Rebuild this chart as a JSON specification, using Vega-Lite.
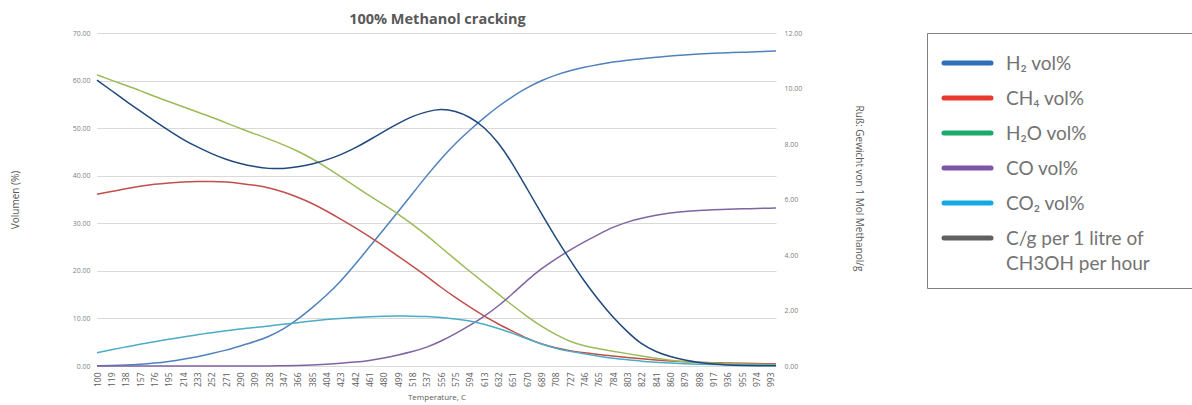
{
  "$schema": "https://vega.github.io/schema/vega-lite/v6.json",
  "padding": {"left": 10, "top": 12, "right": 0, "bottom": 0},
  "config": {"view": {"stroke": null}, "font": "Open Sans"},
  "title": {"text": "100% Methanol cracking", "anchor": "start", "dx": 339, "fontSize": 14.5, "fontWeight": "bold", "color": "#595959", "font": "Open Sans", "offset": 1.5},
  "spacing": 62,
  "resolve": {"scale": {"color": "independent", "x": "independent", "y": "independent"}},
  "hconcat": [
    {
      "width": 679,
      "height": 333,
      "data": {"values": [
        {"T": 100, "H2": 0.05, "CH4": 36.1, "H2O": 61.2, "CO": 0, "CO2": 2.8, "Cg": 10.30},
        {"T": 119, "H2": 0.1, "CH4": 36.7, "H2O": 60.1, "CO": 0, "CO2": 3.4, "Cg": 9.93},
        {"T": 138, "H2": 0.2, "CH4": 37.3, "H2O": 59.0, "CO": 0, "CO2": 4.0, "Cg": 9.55},
        {"T": 157, "H2": 0.35, "CH4": 37.8, "H2O": 57.9, "CO": 0, "CO2": 4.6, "Cg": 9.19},
        {"T": 176, "H2": 0.6, "CH4": 38.2, "H2O": 56.7, "CO": 0, "CO2": 5.1, "Cg": 8.83},
        {"T": 195, "H2": 0.95, "CH4": 38.5, "H2O": 55.6, "CO": 0, "CO2": 5.6, "Cg": 8.49},
        {"T": 214, "H2": 1.4, "CH4": 38.7, "H2O": 54.5, "CO": 0, "CO2": 6.1, "Cg": 8.16},
        {"T": 233, "H2": 1.95, "CH4": 38.8, "H2O": 53.4, "CO": 0, "CO2": 6.6, "Cg": 7.89},
        {"T": 252, "H2": 2.6, "CH4": 38.8, "H2O": 52.3, "CO": 0, "CO2": 7.0, "Cg": 7.65},
        {"T": 271, "H2": 3.3, "CH4": 38.7, "H2O": 51.1, "CO": 0, "CO2": 7.4, "Cg": 7.44},
        {"T": 290, "H2": 4.2, "CH4": 38.4, "H2O": 49.9, "CO": 0, "CO2": 7.8, "Cg": 7.29},
        {"T": 309, "H2": 5.1, "CH4": 38.0, "H2O": 48.8, "CO": 0, "CO2": 8.1, "Cg": 7.18},
        {"T": 328, "H2": 6.2, "CH4": 37.5, "H2O": 47.7, "CO": 0.02, "CO2": 8.4, "Cg": 7.11},
        {"T": 347, "H2": 7.7, "CH4": 36.6, "H2O": 46.5, "CO": 0.05, "CO2": 8.8, "Cg": 7.11},
        {"T": 366, "H2": 9.8, "CH4": 35.5, "H2O": 45.2, "CO": 0.1, "CO2": 9.1, "Cg": 7.17},
        {"T": 385, "H2": 12.2, "CH4": 34.2, "H2O": 43.6, "CO": 0.2, "CO2": 9.5, "Cg": 7.27},
        {"T": 404, "H2": 14.8, "CH4": 32.6, "H2O": 41.8, "CO": 0.35, "CO2": 9.8, "Cg": 7.42},
        {"T": 423, "H2": 17.8, "CH4": 30.9, "H2O": 39.8, "CO": 0.55, "CO2": 10.0, "Cg": 7.61},
        {"T": 442, "H2": 21.3, "CH4": 29.1, "H2O": 37.8, "CO": 0.8, "CO2": 10.2, "Cg": 7.85},
        {"T": 461, "H2": 25.0, "CH4": 27.2, "H2O": 35.8, "CO": 1.15, "CO2": 10.35, "Cg": 8.14},
        {"T": 480, "H2": 28.7, "CH4": 25.2, "H2O": 33.9, "CO": 1.65, "CO2": 10.45, "Cg": 8.45},
        {"T": 499, "H2": 32.4, "CH4": 23.1, "H2O": 32.0, "CO": 2.3, "CO2": 10.5, "Cg": 8.74},
        {"T": 518, "H2": 36.2, "CH4": 21.0, "H2O": 29.8, "CO": 3.0, "CO2": 10.5, "Cg": 9.00},
        {"T": 537, "H2": 40.0, "CH4": 18.9, "H2O": 27.5, "CO": 3.9, "CO2": 10.4, "Cg": 9.17},
        {"T": 556, "H2": 43.6, "CH4": 16.5, "H2O": 24.9, "CO": 5.2, "CO2": 10.2, "Cg": 9.27},
        {"T": 575, "H2": 46.8, "CH4": 14.4, "H2O": 22.4, "CO": 6.8, "CO2": 9.9, "Cg": 9.19},
        {"T": 594, "H2": 49.6, "CH4": 12.4, "H2O": 19.9, "CO": 8.5, "CO2": 9.5, "Cg": 8.98},
        {"T": 613, "H2": 52.2, "CH4": 10.5, "H2O": 17.5, "CO": 10.4, "CO2": 8.8, "Cg": 8.62},
        {"T": 632, "H2": 54.6, "CH4": 8.8, "H2O": 15.1, "CO": 12.6, "CO2": 7.9, "Cg": 8.06},
        {"T": 651, "H2": 56.7, "CH4": 7.3, "H2O": 12.7, "CO": 15.2, "CO2": 6.9, "Cg": 7.29},
        {"T": 670, "H2": 58.5, "CH4": 5.8, "H2O": 10.4, "CO": 18.0, "CO2": 5.7, "Cg": 6.39},
        {"T": 689, "H2": 60.0, "CH4": 4.6, "H2O": 8.3, "CO": 20.5, "CO2": 4.6, "Cg": 5.49},
        {"T": 708, "H2": 61.2, "CH4": 3.8, "H2O": 6.6, "CO": 22.5, "CO2": 3.7, "Cg": 4.63},
        {"T": 727, "H2": 62.1, "CH4": 3.2, "H2O": 5.1, "CO": 24.4, "CO2": 3.05, "Cg": 3.82},
        {"T": 746, "H2": 62.8, "CH4": 2.8, "H2O": 4.2, "CO": 26.1, "CO2": 2.55, "Cg": 3.05},
        {"T": 765, "H2": 63.4, "CH4": 2.4, "H2O": 3.6, "CO": 27.7, "CO2": 2.05, "Cg": 2.37},
        {"T": 784, "H2": 63.9, "CH4": 2.1, "H2O": 3.1, "CO": 29.2, "CO2": 1.6, "Cg": 1.75},
        {"T": 803, "H2": 64.3, "CH4": 1.8, "H2O": 2.6, "CO": 30.3, "CO2": 1.3, "Cg": 1.23},
        {"T": 822, "H2": 64.6, "CH4": 1.5, "H2O": 2.1, "CO": 31.1, "CO2": 1.0, "Cg": 0.77},
        {"T": 841, "H2": 64.9, "CH4": 1.25, "H2O": 1.6, "CO": 31.7, "CO2": 0.8, "Cg": 0.51},
        {"T": 860, "H2": 65.2, "CH4": 1.05, "H2O": 1.2, "CO": 32.2, "CO2": 0.6, "Cg": 0.33},
        {"T": 879, "H2": 65.4, "CH4": 0.9, "H2O": 0.95, "CO": 32.5, "CO2": 0.45, "Cg": 0.21},
        {"T": 898, "H2": 65.6, "CH4": 0.8, "H2O": 0.75, "CO": 32.7, "CO2": 0.35, "Cg": 0.12},
        {"T": 917, "H2": 65.75, "CH4": 0.7, "H2O": 0.6, "CO": 32.85, "CO2": 0.3, "Cg": 0.07},
        {"T": 936, "H2": 65.85, "CH4": 0.62, "H2O": 0.5, "CO": 32.95, "CO2": 0.25, "Cg": 0.03},
        {"T": 955, "H2": 65.95, "CH4": 0.55, "H2O": 0.4, "CO": 33.05, "CO2": 0.2, "Cg": 0.02},
        {"T": 974, "H2": 66.05, "CH4": 0.5, "H2O": 0.35, "CO": 33.1, "CO2": 0.2, "Cg": 0.01},
        {"T": 993, "H2": 66.15, "CH4": 0.45, "H2O": 0.3, "CO": 33.2, "CO2": 0.15, "Cg": 0.005},
        {"T": 1000, "H2": 66.2, "CH4": 0.45, "H2O": 0.3, "CO": 33.2, "CO2": 0.15, "Cg": 0.005}
      ]},
      "encoding": {
        "x": {
          "field": "T", "type": "quantitative",
          "scale": {"domain": [100, 1000], "nice": false, "zero": false},
          "axis": {
            "values": [100,119,138,157,176,195,214,233,252,271,290,309,328,347,366,385,404,423,442,461,480,499,518,537,556,575,594,613,632,651,670,689,708,727,746,765,784,803,822,841,860,879,898,917,936,955,974,993],
            "labelAngle": -90, "labelFontSize": 8.5, "labelColor": "#595959", "labelPadding": 6,
            "labelOverlap": false, "labelFlush": false, "labelBound": false, "ticks": false,
            "domain": true, "domainColor": "#d9d9d9", "grid": false,
            "title": "Temperature, C", "titleFontSize": 8, "titleFontWeight": "normal", "titleColor": "#595959", "titlePadding": 7
          }
        }
      },
      "layer": [
        {
          "transform": [{"fold": ["H2", "CH4", "H2O", "CO", "CO2"], "as": ["series", "value"]}],
          "mark": {"type": "line", "strokeWidth": 1.5, "interpolate": "basis"},
          "encoding": {
            "y": {
              "field": "value", "type": "quantitative",
              "scale": {"domain": [0, 70], "nice": false},
              "axis": {
                "orient": "left", "values": [0,10,20,30,40,50,60,70], "format": ".2f",
                "labelFontSize": 7, "labelColor": "#7f7f7f", "labelPadding": 7,
                "ticks": false, "domain": false, "grid": true, "gridColor": "#d9d9d9",
                "title": "Volumen (%)", "titleFontSize": 10, "titleFontWeight": "normal", "titleColor": "#595959", "titlePadding": 52
              }
            },
            "color": {
              "field": "series", "type": "nominal",
              "scale": {"domain": ["H2", "CH4", "H2O", "CO", "CO2"], "range": ["#4F81BD", "#C0504D", "#9BBB59", "#8064A2", "#4BACC6"]},
              "legend": null
            }
          }
        },
        {
          "mark": {"type": "line", "strokeWidth": 1.5, "interpolate": "basis", "color": "#1F497D"},
          "encoding": {
            "y": {
              "field": "Cg", "type": "quantitative",
              "scale": {"domain": [0, 12], "nice": false},
              "axis": {
                "orient": "right", "values": [0,2,4,6,8,10,12], "format": ".2f",
                "labelFontSize": 7, "labelColor": "#7f7f7f", "labelPadding": 8,
                "ticks": false, "domain": false, "grid": false,
                "title": "Ruß: Gewicht von 1 Mol Methanol/g", "titleFontSize": 10, "titleFontWeight": "normal", "titleColor": "#595959", "titlePadding": 52, "titleY": 155
              }
            }
          }
        }
      ],
      "resolve": {"scale": {"y": "independent"}}
    },
    {
      "width": 266,
      "height": 255,
      "view": {"stroke": "#808080", "strokeWidth": 1},
      "data": {"values": [
        {"label": "H₂ vol%"},
        {"label": "CH₄ vol%"},
        {"label": "H₂O vol%"},
        {"label": "CO vol%"},
        {"label": "CO₂ vol%"},
        {"label": "C/g per 1 litre of\nCH3OH per hour"}
      ]},
      "encoding": {
        "y": {"field": "label", "type": "ordinal", "scale": {"type": "point", "padding": 0, "domain": ["H₂ vol%", "CH₄ vol%", "H₂O vol%", "CO vol%", "CO₂ vol%", "C/g per 1 litre of\nCH3OH per hour"], "range": [30, 205]}, "axis": null}
      },
      "layer": [
        {
          "mark": {"type": "rule", "strokeWidth": 5, "strokeCap": "round"},
          "encoding": {
            "x": {"datum": 17, "type": "quantitative", "scale": {"domain": [0, 266], "nice": false, "zero": false}, "axis": null},
            "x2": {"datum": 64},
            "color": {"field": "label", "type": "nominal", "scale": {"domain": ["H₂ vol%", "CH₄ vol%", "H₂O vol%", "CO vol%", "CO₂ vol%", "C/g per 1 litre of\nCH3OH per hour"], "range": ["#2E6FBA", "#E8392E", "#1AAA6B", "#7E55A6", "#15A9E1", "#606060"]}, "legend": null}
          }
        },
        {
          "mark": {"type": "text", "align": "left", "baseline": "alphabetic", "dy": 7, "fontSize": 19, "color": "#737373", "lineBreak": "\n", "lineHeight": 25, "font": "Lato"},
          "encoding": {
            "x": {"datum": 79, "type": "quantitative"},
            "text": {"field": "label"}
          }
        }
      ]
    }
  ]
}
